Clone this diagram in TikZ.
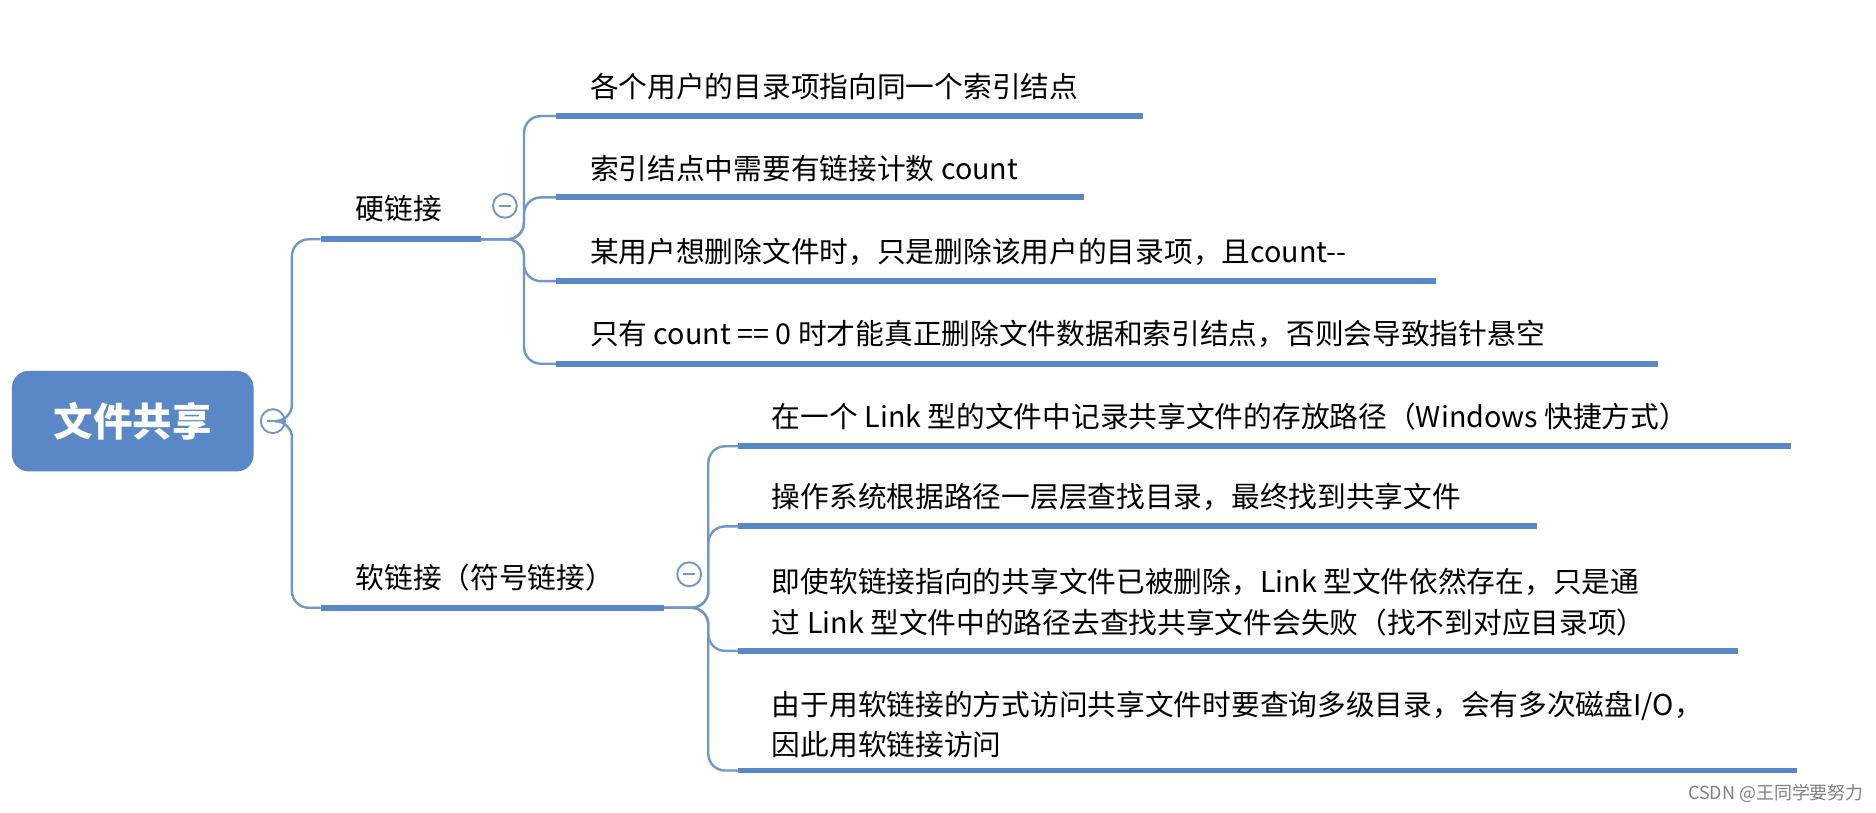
\documentclass[tikz,border=0pt]{standalone}
\usepackage{fontspec}
\setmainfont{Noto Sans CJK SC}
\begin{document}
\begin{tikzpicture}[x=1pt,y=-1pt,
  ul/.style={line width=5pt,draw=ulc},
  con/.style={line width=2pt,draw=conc,rounded corners=14pt},
  txt/.style={anchor=south west,inner sep=0pt,font=\fontsize{24}{30}\selectfont},
  mn/.style={circle,draw=conc,line width=1.6pt,minimum size=20pt,inner sep=0pt,fill=white}]
\definecolor{ulc}{HTML}{5A87C5}
\definecolor{conc}{HTML}{6F97CC}
\definecolor{rootc}{HTML}{5A87C5}
\useasboundingbox (0,0) rectangle (1568,679);
\fill[white] (0,0) rectangle (1568,679);
% root
\node[fill=rootc,rounded corners=14pt,minimum width=202pt,minimum height=84pt,text=white,font=\fontsize{33}{36}\selectfont\bfseries] (root) at (111,352) {文件共享};
\node[mn] (m0) at (228,352) {};
\draw[conc,line width=2pt] (m0.center) ++(-5,0) -- ++(10,0);
\coordinate (hs) at (268,200); \coordinate (he) at (402,200);
\coordinate (ss) at (268,508); \coordinate (se) at (555,508);
\draw[con] (m0.east) -- (244,352) |- (hs);
\draw[con] (m0.east) -- (244,352) |- (ss);
\draw[ul] (hs) -- (he);
\draw[ul] (ss) -- (se);
\node[txt] (h) at (297,186) {硬链接};
\node[txt] (s) at (297,494) {软链接（符号链接）};
\node[mn] (m1) at (422,172) {};
\draw[conc,line width=2pt] (m1.center) ++(-5,0) -- ++(10,0);
\node[mn] (m2) at (576,480) {};
\draw[conc,line width=2pt] (m2.center) ++(-5,0) -- ++(10,0);
% hard children
\foreach \y/\xe/\t in {97/955/各个用户的目录项指向同一个索引结点,165/906/索引结点中需要有链接计数 count,235/1200/{某用户想删除文件时，只是删除该用户的目录项，且count-{}-},304/1386/只有 count == 0 时才能真正删除文件数据和索引结点，否则会导致指针悬空}{
  \coordinate (c) at (465,\y);
  \draw[con] (he) -- (438,200) |- (c);
  \draw[ul] (c) -- (\xe,\y);
  \node[txt] at (493,\y-13) {\t};
}
% soft children
\foreach \y/\xe in {373/1497,440/1285,544/1453,644/1502}{
  \coordinate (c) at (617,\y);
  \draw[con] (se) -- (592,508) |- (c);
  \draw[ul] (c) -- (\xe,\y);
}
\node[txt] at (645,360) {在一个 Link 型的文件中记录共享文件的存放路径（Windows 快捷方式）};
\node[txt] at (645,427) {操作系统根据路径一层层查找目录，最终找到共享文件};
\node[txt,align=left,anchor=south west,font=\fontsize{24}{34}\selectfont] at (645,532) {即使软链接指向的共享文件已被删除，Link 型文件依然存在，只是通\\过 Link 型文件中的路径去查找共享文件会失败（找不到对应目录项）};
\node[txt,align=left,anchor=south west,font=\fontsize{24}{34}\selectfont] at (645,634) {由于用软链接的方式访问共享文件时要查询多级目录，会有多次磁盘I/O，\\因此用软链接访问};
\node[anchor=east,inner sep=0pt,text=gray,font=\fontsize{15}{18}\selectfont] (wm) at (1558,663) {CSDN @王同学要努力};
\end{tikzpicture}
\end{document}
